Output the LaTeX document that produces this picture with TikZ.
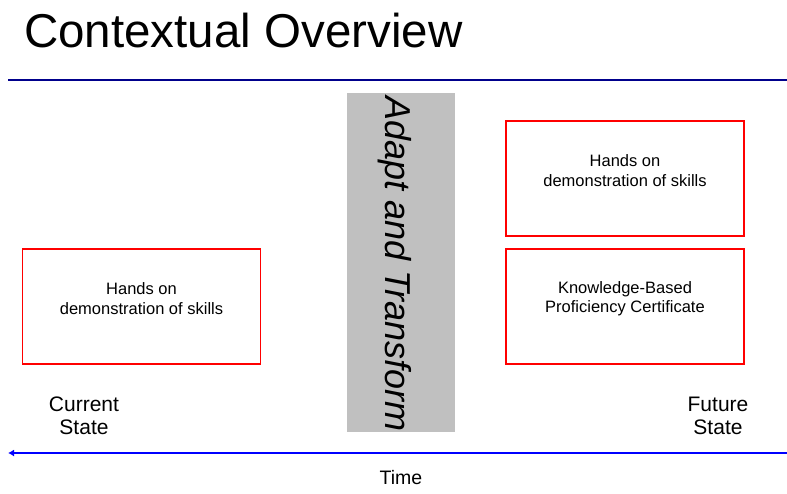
\documentclass[tikz,border=0pt]{standalone}
\usepackage{fontspec}
\setmainfont{Liberation Sans}
\usetikzlibrary{positioning, arrows.meta}

\definecolor{ruleblue}{RGB}{0,0,140}
\definecolor{timeblue}{RGB}{0,0,255}
\definecolor{bargrey}{RGB}{192,192,192}

\tikzset{
  statebox/.style={draw=red, line width=1.4pt, minimum width=238pt, minimum height=115pt, inner sep=0pt},
  boxtext/.style={align=center, font=\fontsize{16.5}{19.5}\selectfont},
  sidetext/.style={align=center, font=\fontsize{21}{23.5}\selectfont}
}

\begin{document}
\begin{tikzpicture}[x=1pt, y=-1pt]
    \useasboundingbox (0,0) rectangle (787,493);

    \node[anchor=base west, inner sep=0pt, font=\fontsize{47.5}{54}\selectfont] (title) at (24,47) {Contextual Overview};
    \coordinate (ruleL) at (8,80);
    \coordinate (ruleR) at (787,80);
    \draw[ruleblue, line width=1.2pt] (ruleL) -- (ruleR);

    \node[fill=bargrey, minimum width=108pt, minimum height=339pt, inner sep=0pt] (bar) at (401,262.5) {};
    \node[rotate=-90, anchor=base, inner sep=0pt, font=\fontsize{36}{42}\selectfont\itshape] (adapt) at (385,264) {Adapt and Transform};

    \node[statebox] (cur) at (141.5,306.5) {};
    \node[statebox] (fut1) at (625,178.5) {};
    \node[statebox] (fut2) at (625,306.5) {};

    \node[boxtext] (curtxt) at ([yshift=8pt]cur.center) {Hands on\\demonstration of skills};
    \node[boxtext] (fut1txt) at ([yshift=8pt]fut1.center) {Hands on\\demonstration of skills};
    \node[boxtext] (fut2txt) at ([yshift=8pt]fut2.center) {Knowledge-Based\\Proficiency Certificate};

    \node[sidetext] (curstate) at (84,416) {Current\\State};
    \node[sidetext] (futstate) at (718,416) {Future\\State};

    \coordinate (timeR) at (787,453);
    \coordinate (timeL) at (8,453);
    \draw[timeblue, line width=1.8pt, -{Latex[length=6pt, width=7pt]}] (timeR) -- (timeL);
    \node[sidetext, font=\fontsize{19.5}{23}\selectfont] (time) at (401,478) {Time};
\end{tikzpicture}
\end{document}
